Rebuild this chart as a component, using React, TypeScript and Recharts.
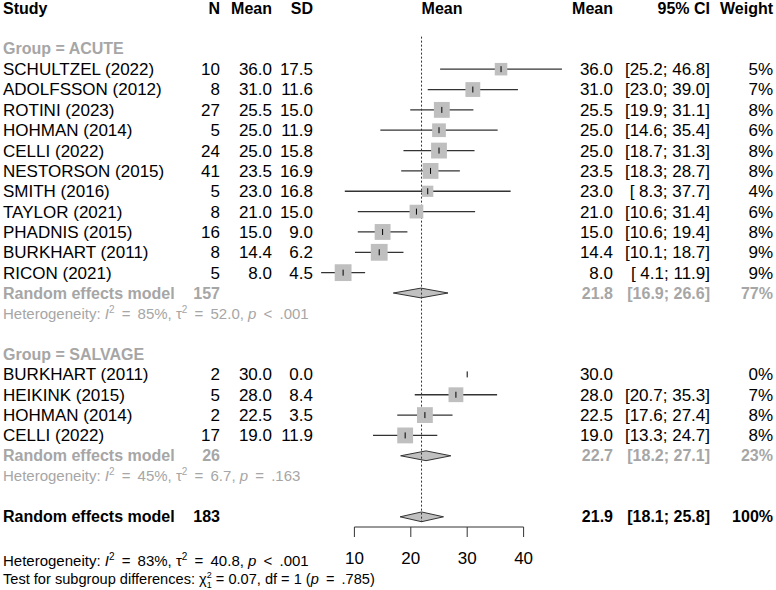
import React from 'react';
import { ScatterChart, Scatter, XAxis, YAxis, ErrorBar, ReferenceLine, ReferenceArea } from 'recharts';

// ---------- data ----------
const acuteStudies = ['SCHULTZEL (2022)', 'ADOLFSSON (2012)', 'ROTINI (2023)', 'HOHMAN (2014)', 'CELLI (2022)', 'NESTORSON (2015)', 'SMITH (2016)', 'TAYLOR (2021)', 'PHADNIS (2015)', 'BURKHART (2011)', 'RICON (2021)'];
const acuteN = [10, 8, 27, 5, 24, 41, 5, 8, 16, 8, 5];
const acuteMean = [36.0, 31.0, 25.5, 25.0, 25.0, 23.5, 23.0, 21.0, 15.0, 14.4, 8.0];
const acuteSD = [17.5, 11.6, 15.0, 11.9, 15.8, 16.9, 16.8, 15.0, 9.0, 6.2, 4.5];
const acuteLow = [25.2, 23.0, 19.9, 14.6, 18.7, 18.3, 8.3, 10.6, 10.6, 10.1, 4.1];
const acuteHigh = [46.8, 39.0, 31.1, 35.4, 31.3, 28.7, 37.7, 31.4, 19.4, 18.7, 11.9];
const acuteWeight = [5, 7, 8, 6, 8, 8, 4, 6, 8, 9, 9];

const salvageStudies = ['BURKHART (2011)', 'HEIKINK (2015)', 'HOHMAN (2014)', 'CELLI (2022)'];
const salvageN = [2, 5, 2, 17];
const salvageMean = [30.0, 28.0, 22.5, 19.0];
const salvageSD = [0.0, 8.4, 3.5, 11.9];
const salvageLow: (number | null)[] = [null, 20.7, 17.6, 13.3];
const salvageHigh: (number | null)[] = [null, 35.3, 27.4, 24.7];
const salvageWeight = [0, 7, 8, 8];

const groupLabels = ['ACUTE', 'SALVAGE'];
const groupTotalN = [157, 26];
const groupEst = [21.8, 22.7];
const groupLow = [16.9, 18.2];
const groupHigh = [26.6, 27.1];
const groupWeight = [77, 23];
const groupI2 = [85, 45];
const groupTau2 = ['52.0', '6.7'];
const groupP = ['< .001', '= .163'];

const overallN = 183;
const overallEst = 21.9;
const overallLow = 18.1;
const overallHigh = 25.8;
const overallWeight = 100;
const overallI2 = 83;
const overallTau2 = '40.8';
const overallP = '< .001';
const subgroupChi2 = '0.07';
const subgroupDf = 1;
const subgroupP = '.785';

const xTicks = [10, 20, 30, 40];

// ---------- styling ----------
const F = '"Liberation Sans", Arial, Helvetica, sans-serif';
const GRAY = '#a6a6a6';
const REG = 17;
const BOLD = 16;
const HET = 15;
const TEST = 14.6;
const LINE = '#333333';

// column anchors (layout)
const X_STUDY = 3;
const X_N = 220;
const X_MEAN = 272;
const X_SD = 313;
const X_HDR_MEAN = 442;
const X_RMEAN = 613;
const X_CI = 710;
const X_W = 773;

const f1 = (v: number) => v.toFixed(1);
const fci = (v: number) => (v < 10 ? ' ' + f1(v) : f1(v));

// ---------- build rows ----------
const groups = [
  { names: acuteStudies, n: acuteN, mean: acuteMean, sd: acuteSD, lo: acuteLow as (number | null)[], hi: acuteHigh as (number | null)[], w: acuteWeight },
  { names: salvageStudies, n: salvageN, mean: salvageMean, sd: salvageSD, lo: salvageLow, hi: salvageHigh, w: salvageWeight },
];

const rows: any[] = [{ row: 0, kind: 'header' }];
const points: any[] = [];
const summaries: any[] = [];
let r = 2;
groups.forEach((g, gi) => {
  rows.push({ row: r++, kind: 'group', label: groupLabels[gi] });
  g.names.forEach((name, i) => {
    const lo = g.lo[i];
    const hi = g.hi[i];
    rows.push({ row: r, kind: 'study', name, n: g.n[i], mean: g.mean[i], sd: g.sd[i], lo, hi, w: g.w[i] });
    points.push({
      x: g.mean[i],
      y: r,
      w: g.w[i],
      err: lo == null || hi == null ? [0, 0] : [g.mean[i] - lo, hi - g.mean[i]],
    });
    r++;
  });
  rows.push({ row: r, kind: 're', n: groupTotalN[gi], est: groupEst[gi], lo: groupLow[gi], hi: groupHigh[gi], w: groupWeight[gi] });
  summaries.push({ y: r, est: groupEst[gi], lo: groupLow[gi], hi: groupHigh[gi] });
  r++;
  rows.push({ row: r++, kind: 'het', i2: groupI2[gi], tau2: groupTau2[gi], p: groupP[gi] });
  r++;
});
rows.push({ row: r, kind: 'overall', n: overallN, est: overallEst, lo: overallLow, hi: overallHigh, w: overallWeight });
summaries.push({ y: r, est: overallEst, lo: overallLow, hi: overallHigh });
const yMax = r + 0.5;
const rowTicks = rows.map((x) => x.row);
const rowMap = new Map<number, any>(rows.map((x) => [x.row, x]));

// ---------- text helpers ----------
const Txt = ({ x, y, anchor = 'start', bold = false, color = '#000', children }: any) => (
  <text
    x={x}
    y={y}
    dy="0.35em"
    textAnchor={anchor}
    fontFamily={F}
    fontSize={bold ? BOLD : REG}
    fontWeight={bold ? 'bold' : 'normal'}
    fill={color}
  >
    {children}
  </text>
);

const HetText = ({ x, y, i2, tau2, p, color }: any) => {
  const op = p.slice(0, 1);
  const pv = p.slice(2);
  return (
    <text x={x} y={y} dy="0.35em" fontFamily={F} fontSize={HET} fill={color}>
      <tspan>Heterogeneity: </tspan>
      <tspan fontStyle="italic">I</tspan>
      <tspan fontSize={10} dy={-6}>2</tspan>
      <tspan dy={6} dx={3}>{' ='}</tspan>
      <tspan dx={3}>{` ${i2}%, \u03c4`}</tspan>
      <tspan fontSize={10} dy={-6}>2</tspan>
      <tspan dy={6} dx={3}>{' ='}</tspan>
      <tspan dx={3}>{` ${tau2}, `}</tspan>
      <tspan fontStyle="italic">p</tspan>
      <tspan dx={3}>{` ${op}`}</tspan>
      <tspan dx={3}>{` ${pv}`}</tspan>
    </text>
  );
};

const RowTick = (props: any) => {
  const { y, payload } = props;
  const d = rowMap.get(payload.value);
  if (!d) return null;
  if (d.kind === 'header') {
    return (
      <g>
        <Txt x={X_STUDY} y={y} bold>Study</Txt>
        <Txt x={X_N} y={y} bold anchor="end">N</Txt>
        <Txt x={X_MEAN} y={y} bold anchor="end">Mean</Txt>
        <Txt x={X_SD} y={y} bold anchor="end">SD</Txt>
        <Txt x={X_HDR_MEAN} y={y} bold anchor="middle">Mean</Txt>
        <Txt x={X_RMEAN} y={y} bold anchor="end">Mean</Txt>
        <Txt x={X_CI} y={y} bold anchor="end">95% CI</Txt>
        <Txt x={X_W} y={y} bold anchor="end">Weight</Txt>
      </g>
    );
  }
  if (d.kind === 'group') {
    return <Txt x={X_STUDY} y={y} bold color={GRAY}>{`Group = ${d.label}`}</Txt>;
  }
  if (d.kind === 'study') {
    return (
      <g>
        <Txt x={X_STUDY} y={y}>{d.name}</Txt>
        <Txt x={X_N} y={y} anchor="end">{d.n}</Txt>
        <Txt x={X_MEAN} y={y} anchor="end">{f1(d.mean)}</Txt>
        <Txt x={X_SD} y={y} anchor="end">{f1(d.sd)}</Txt>
        <Txt x={X_RMEAN} y={y} anchor="end">{f1(d.mean)}</Txt>
        {d.lo != null && <Txt x={X_CI} y={y} anchor="end">{`[${fci(d.lo)}; ${fci(d.hi)}]`}</Txt>}
        <Txt x={X_W} y={y} anchor="end">{`${d.w}%`}</Txt>
      </g>
    );
  }
  if (d.kind === 're' || d.kind === 'overall') {
    const c = d.kind === 're' ? GRAY : '#000';
    return (
      <g>
        <Txt x={X_STUDY} y={y} bold color={c}>Random effects model</Txt>
        <Txt x={X_N} y={y} bold anchor="end" color={c}>{d.n}</Txt>
        <Txt x={X_RMEAN} y={y} bold anchor="end" color={c}>{f1(d.est)}</Txt>
        <Txt x={X_CI} y={y} bold anchor="end" color={c}>{`[${fci(d.lo)}; ${fci(d.hi)}]`}</Txt>
        <Txt x={X_W} y={y} bold anchor="end" color={c}>{`${d.w}%`}</Txt>
      </g>
    );
  }
  if (d.kind === 'het') {
    return <HetText x={X_STUDY} y={y} i2={d.i2} tau2={d.tau2} p={d.p} color={GRAY} />;
  }
  return null;
};

const XTick = (props: any) => {
  const { x, y, payload } = props;
  return (
    <text x={x} y={y + 21} dy="0.35em" textAnchor="middle" fontFamily={F} fontSize={REG} fill="#000">
      {payload.value}
    </text>
  );
};

const SquareShape = (p: any) => {
  const { cx, cy, payload } = p;
  const s = 5.6 * Math.sqrt(payload.w);
  return (
    <g>
      {s > 0 && <rect x={cx - s / 2} y={cy - s / 2} width={s} height={s} fill="#bfbfbf" />}
      <line x1={cx} x2={cx} y1={cy - 3} y2={cy + 3} stroke="#000" strokeWidth={1} />
    </g>
  );
};

const makeDiamond = (s: any) => (p: any) => {
  const { x, y, width, height } = p;
  const top = Math.min(y, y + height);
  const h = Math.abs(height);
  const cx = x + (width * (s.est - s.lo)) / (s.hi - s.lo);
  const cy = top + h / 2;
  return (
    <polygon
      points={`${x},${cy} ${cx},${top} ${x + width},${cy} ${cx},${top + h}`}
      fill="#c0c0c0"
      stroke={LINE}
      strokeWidth={1}
    />
  );
};

export default function App() {
  return (
    <div style={{ position: 'absolute', left: 0, top: 0, width: 776, height: 590, background: '#fff' }}>
      <ScatterChart width={776} height={590} margin={{ top: 0, right: 196, bottom: 0, left: 0 }}>
        <XAxis
          type="number"
          dataKey="x"
          domain={[0, 50]}
          ticks={xTicks}
          interval={0}
          axisLine={false}
          tickSize={10}
          tickMargin={0}
          tickLine={{ stroke: LINE }}
          tick={<XTick />}
          height={63}
          allowDataOverflow
        />
        <YAxis
          type="number"
          dataKey="y"
          domain={[-0.4, yMax]}
          reversed
          ticks={rowTicks}
          interval={0}
          axisLine={false}
          tickLine={false}
          tick={<RowTick />}
          width={298}
          allowDataOverflow
        />
        <ReferenceLine
          segment={[{ x: overallEst, y: 1.4 }, { x: overallEst, y: yMax - 0.25 }]}
          stroke={LINE}
          strokeDasharray="2 2"
          ifOverflow="visible"
        />
        <ReferenceLine
          segment={[{ x: xTicks[0], y: yMax }, { x: xTicks[xTicks.length - 1], y: yMax }]}
          stroke={LINE}
          ifOverflow="visible"
        />
        {summaries.map((s, i) => (
          <ReferenceArea
            key={`d${i}`}
            x1={s.lo}
            x2={s.hi}
            y1={s.y - 0.24}
            y2={s.y + 0.24}
            shape={makeDiamond(s)}
            ifOverflow="visible"
          />
        ))}
        <Scatter data={points} shape={SquareShape} isAnimationActive={false}>
          <ErrorBar dataKey="err" direction="x" width={0} stroke={LINE} strokeWidth={1.3} isAnimationActive={false} />
        </Scatter>
      </ScatterChart>
      <svg width={776} height={590} style={{ position: 'absolute', left: 0, top: 0, pointerEvents: 'none' }}>
        <HetText x={X_STUDY} y={561} i2={overallI2} tau2={overallTau2} p={overallP} color="#000" />
        <text x={X_STUDY} y={579} dy="0.35em" fontFamily={F} fontSize={TEST} fill="#000">
          <tspan>Test for subgroup differences: </tspan>
          <tspan>{'\u03c7'}</tspan>
          <tspan fontSize={9} dy={-6.5}>2</tspan>
          <tspan fontSize={9} dx={-5} dy={10}>{subgroupDf}</tspan>
          <tspan dy={-3.5}>{` = ${subgroupChi2}, df = ${subgroupDf} (`}</tspan>
          <tspan fontStyle="italic">p</tspan>
          <tspan dx={3}>{' ='}</tspan>
          <tspan dx={3}>{` ${subgroupP})`}</tspan>
        </text>
      </svg>
    </div>
  );
}
